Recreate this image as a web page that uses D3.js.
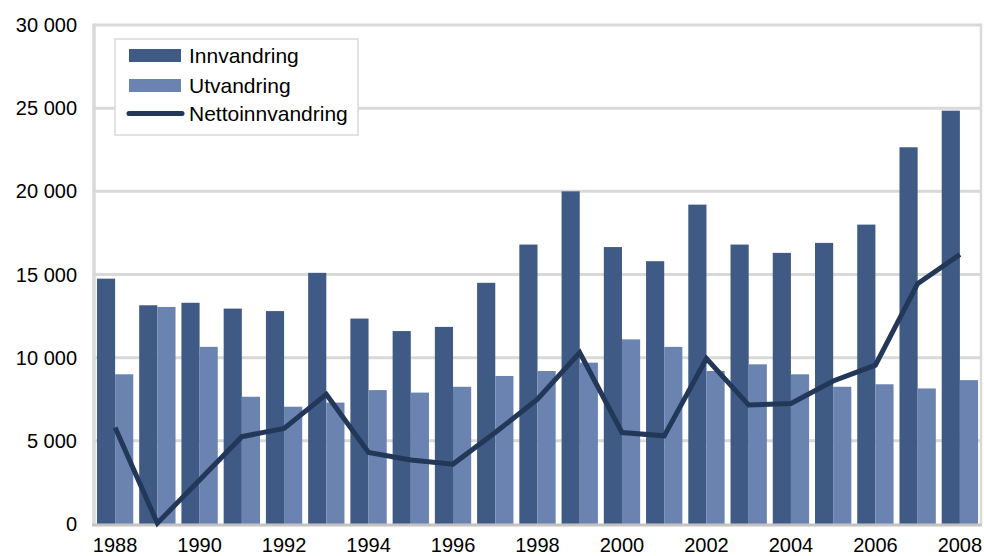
<!DOCTYPE html>
<html>
<head>
<meta charset="utf-8">
<script src="https://cdn.jsdelivr.net/npm/d3@7"></script>
<style>
  body { margin: 0; background: #fff; }
  text { font-family: "Liberation Sans", Arial, sans-serif; fill: #000; }
</style>
</head>
<body>
<script>
// data
var years = [1988, 1989, 1990, 1991, 1992, 1993, 1994, 1995, 1996, 1997, 1998,
             1999, 2000, 2001, 2002, 2003, 2004, 2005, 2006, 2007, 2008];
var innvandring = [14750, 13150, 13300, 12950, 12800, 15100, 12350, 11600, 11850, 14500, 16800,
                   20000, 16650, 15800, 19200, 16800, 16300, 16900, 18000, 22650, 24850];
var utvandring = [9000, 13050, 10650, 7650, 7050, 7300, 8050, 7900, 8250, 8900, 9200,
                  9700, 11100, 10650, 9200, 9600, 9000, 8250, 8400, 8150, 8650];
var netto = [5800, 50, 2650, 5250, 5750, 7800, 4300, 3850, 3600, 5500, 7500,
             10300, 5500, 5300, 9950, 7150, 7250, 8600, 9550, 14450, 16200];
var yTicks = [0, 5000, 10000, 15000, 20000, 25000, 30000];
var xLabels = [1988, 1990, 1992, 1994, 1996, 1998, 2000, 2002, 2004, 2006, 2008];
var seriesNames = ["Innvandring", "Utvandring", "Nettoinnvandring"];

var cInn = "#3f5a85", cUt = "#6a83b1", cNet = "#233858", cGrid = "#d9d9d9";

var W = 984, H = 556;
var pLeft = 94, pRight = 981, pTop = 25, pBottom = 524;

var svg = d3.select("body").append("svg")
  .attr("width", W).attr("height", H);

var x = d3.scaleBand().domain(years).range([pLeft, pRight]).paddingInner(0.14).paddingOuter(0.07);
var x1 = d3.scaleBand().domain([0, 1]).range([0, x.bandwidth()]);
var y = d3.scaleLinear().domain([0, 30000]).range([pBottom, pTop]);

// gridlines
svg.append("g").selectAll("line").data(yTicks.filter(function (d) { return d > 0; }))
  .enter().append("line")
  .attr("x1", pLeft).attr("x2", pRight)
  .attr("y1", function (d) { return y(d); }).attr("y2", function (d) { return y(d); })
  .attr("stroke", cGrid).attr("stroke-width", 3);

// frame left / right
svg.append("line").attr("x1", pLeft).attr("x2", pLeft).attr("y1", pTop - 1.5).attr("y2", pBottom)
  .attr("stroke", cGrid).attr("stroke-width", 3.5);
svg.append("line").attr("x1", pRight).attr("x2", pRight).attr("y1", pTop - 1.5).attr("y2", pBottom)
  .attr("stroke", cGrid).attr("stroke-width", 2.5);

// bars
var g = svg.append("g").selectAll("g").data(years).enter().append("g")
  .attr("transform", function (d) { return "translate(" + x(d) + ",0)"; });
g.append("rect")
  .attr("x", x1(0)).attr("width", x1.bandwidth())
  .attr("y", function (d, i) { return y(innvandring[i]); })
  .attr("height", function (d, i) { return pBottom - y(innvandring[i]); })
  .attr("fill", cInn);
g.append("rect")
  .attr("x", x1(1)).attr("width", x1.bandwidth())
  .attr("y", function (d, i) { return y(utvandring[i]); })
  .attr("height", function (d, i) { return pBottom - y(utvandring[i]); })
  .attr("fill", cUt);

// bottom axis line
svg.append("line").attr("x1", pLeft - 2).attr("x2", pRight + 1).attr("y1", pBottom + 1).attr("y2", pBottom + 1)
  .attr("stroke", "#c3c3c3").attr("stroke-width", 3);

// net line
var line = d3.line()
  .x(function (d, i) { return x(years[i]) + x.bandwidth() / 2; })
  .y(function (d) { return y(d); });
svg.append("path").datum(netto)
  .attr("d", line)
  .attr("fill", "none").attr("stroke", cNet).attr("stroke-width", 5)
  .attr("stroke-linejoin", "miter");

// y labels
svg.append("g").selectAll("text").data(yTicks).enter().append("text")
  .attr("x", 77).attr("y", function (d) { return y(d); })
  .attr("dy", "0.35em")
  .attr("text-anchor", "end")
  .style("font-size", "20px")
  .text(function (d) { return d3.format(",")(d).replace(",", " "); });

// x labels
svg.append("g").selectAll("text").data(xLabels).enter().append("text")
  .attr("x", function (d) { return x(d) + x.bandwidth() / 2; })
  .attr("y", 552)
  .attr("text-anchor", "middle")
  .style("font-size", "20px")
  .text(function (d) { return d; });

// legend
var lg = svg.append("g");
lg.append("rect").attr("x", 115).attr("y", 39).attr("width", 243).attr("height", 96)
  .attr("fill", "#fff").attr("stroke", cGrid).attr("stroke-width", 1.5);
var legY = [55.5, 85.5, 113.5];
lg.append("rect").attr("x", 129).attr("y", 49).attr("width", 52).attr("height", 13).attr("fill", cInn);
lg.append("rect").attr("x", 129).attr("y", 79).attr("width", 52).attr("height", 13).attr("fill", cUt);
lg.append("line").attr("x1", 129).attr("x2", 182).attr("y1", legY[2]).attr("y2", legY[2])
  .attr("stroke", cNet).attr("stroke-width", 5).attr("stroke-linecap", "round");
lg.selectAll("text.leg").data(seriesNames).enter().append("text")
  .attr("class", "leg")
  .attr("x", 189).attr("y", function (d, i) { return legY[i]; })
  .attr("dy", "0.36em")
  .style("font-size", "21px")
  .text(function (d) { return d; });
</script>
</body>
</html>
